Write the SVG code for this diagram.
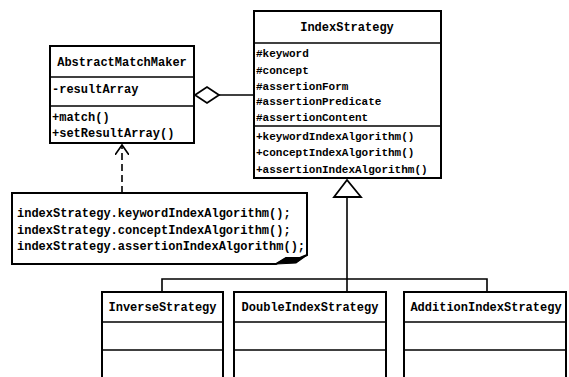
<svg xmlns="http://www.w3.org/2000/svg" width="569" height="377" viewBox="0 0 569 377">
  <style>
    .box { fill: #ffffff; stroke: #000000; stroke-width: 2; }
    .div { stroke: #000000; stroke-width: 1.6; fill: none; }
    .txt { font-family: "Liberation Mono", "DejaVu Sans Mono", monospace; font-size: 12px; font-weight: bold; fill: #000000; }
    .small { font-size: 11px; }
    .title { text-anchor: middle; }
    .wire { stroke: #000000; stroke-width: 1.6; fill: none; }
  </style>
  <defs>
    <marker id="openArrow" markerWidth="14" markerHeight="14" refX="10" refY="7" orient="auto" markerUnits="userSpaceOnUse">
      <path d="M0,0 L10,7 L0,14" fill="none" stroke="#000" stroke-width="1.6"/>
    </marker>
  </defs>
  <rect width="569" height="377" fill="#ffffff"/>

  <!-- connectors -->
  <g id="connectors">
    <!-- aggregation between AbstractMatchMaker and IndexStrategy -->
    <line class="wire" x1="219" y1="95" x2="254" y2="95"/>
    <polygon points="195,95 207,87 219,95 207,103" fill="#ffffff" stroke="#000" stroke-width="1.8"/>
    <!-- dependency from note -->
    <line class="wire" x1="122" y1="193" x2="122" y2="145" stroke-dasharray="7,4" marker-end="url(#openArrow)"/>
    <!-- generalization tree -->
    <polygon points="347,180 334,197 361,197" fill="#ffffff" stroke="#000" stroke-width="1.8"/>
    <line class="wire" x1="347" y1="197" x2="347" y2="292"/>
    <polyline class="wire" points="162,292 162,279 487,279 487,292"/>
  </g>

  <!-- AbstractMatchMaker -->
  <g id="AbstractMatchMaker">
    <rect class="box" x="50" y="46" width="144" height="97"/>
    <line class="div" x1="50" y1="77" x2="194" y2="77"/>
    <line class="div" x1="50" y1="106" x2="194" y2="106"/>
    <text class="txt title" x="122" y="66">AbstractMatchMaker</text>
    <text class="txt" x="52" y="93">-resultArray</text>
    <text class="txt" x="52" y="121">+match()</text>
    <text class="txt" x="52" y="137">+setResultArray()</text>
  </g>

  <!-- IndexStrategy -->
  <g id="IndexStrategy">
    <rect class="box" x="254" y="11" width="187" height="167"/>
    <line class="div" x1="254" y1="43" x2="441" y2="43"/>
    <line class="div" x1="254" y1="126" x2="441" y2="126"/>
    <text class="txt title" x="347" y="31">IndexStrategy</text>
    <text class="txt small" x="256" y="57">#keyword</text>
    <text class="txt small" x="256" y="74">#concept</text>
    <text class="txt small" x="256" y="90">#assertionForm</text>
    <text class="txt small" x="256" y="105">#assertionPredicate</text>
    <text class="txt small" x="256" y="121">#assertionContent</text>
    <text class="txt small" x="256" y="140">+keywordIndexAlgorithm()</text>
    <text class="txt small" x="256" y="156">+conceptIndexAlgorithm()</text>
    <text class="txt small" x="256" y="173">+assertionIndexAlgorithm()</text>
  </g>

  <!-- note -->
  <g id="note">
    <path d="M12,193 H307 V255 L300,258 L286,258 L276,264 H12 Z" fill="#ffffff" stroke="#000" stroke-width="2"/>
    <path d="M307,255 L300,258 L286,258 L276,264 L296,263 Z" fill="#000" stroke="#000" stroke-width="1.2"/>
    <text class="txt" x="17" y="217">indexStrategy.keywordIndexAlgorithm();</text>
    <text class="txt" x="17" y="234">indexStrategy.conceptIndexAlgorithm();</text>
    <text class="txt" x="17" y="250">indexStrategy.assertionIndexAlgorithm();</text>
  </g>

  <!-- InverseStrategy -->
  <g id="InverseStrategy">
    <rect class="box" x="102" y="292" width="121" height="95"/>
    <line class="div" x1="102" y1="322" x2="223" y2="322"/>
    <line class="div" x1="102" y1="350" x2="223" y2="350"/>
    <text class="txt title" x="162.5" y="311">InverseStrategy</text>
  </g>

  <!-- DoubleIndexStrategy -->
  <g id="DoubleIndexStrategy">
    <rect class="box" x="234" y="292" width="152" height="95"/>
    <line class="div" x1="234" y1="322" x2="386" y2="322"/>
    <line class="div" x1="234" y1="350" x2="386" y2="350"/>
    <text class="txt title" x="310" y="311">DoubleIndexStrategy</text>
  </g>

  <!-- AdditionIndexStrategy -->
  <g id="AdditionIndexStrategy">
    <rect class="box" x="404" y="292" width="162" height="95"/>
    <line class="div" x1="404" y1="322" x2="566" y2="322"/>
    <line class="div" x1="404" y1="350" x2="566" y2="350"/>
    <text class="txt title" x="486" y="311">AdditionIndexStrategy</text>
  </g>
</svg>
